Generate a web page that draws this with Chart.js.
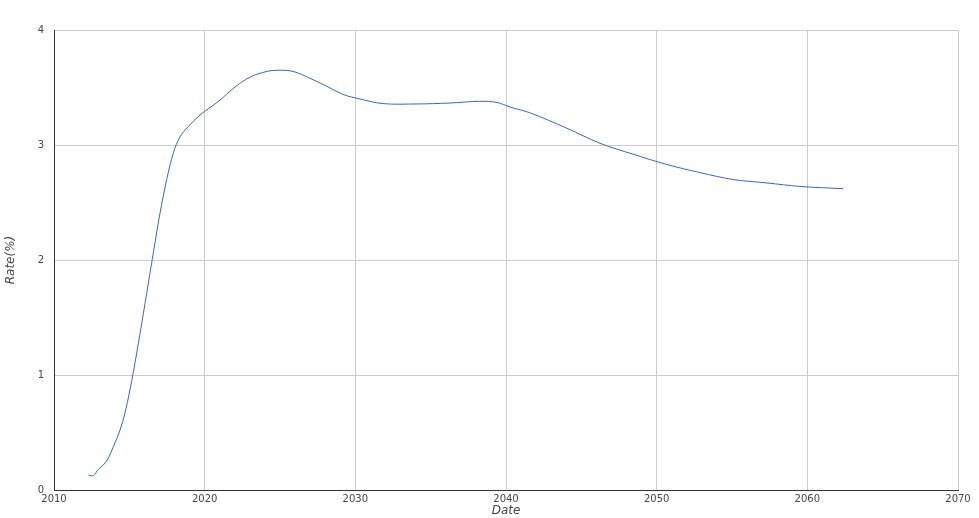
<!DOCTYPE html>
<html lang="en">
<head>
<meta charset="UTF-8">
<title>Rate chart</title>
<script src="https://cdn.jsdelivr.net/npm/chart.js@4"></script>
<style>
  * { margin: 0; padding: 0; box-sizing: border-box; }
  body { background: #fff; width: 979px; height: 518px; overflow: hidden; }
  #wrap { position: relative; width: 979px; height: 518px; }
</style>
</head>
<body>
<div id="wrap"><canvas id="rateChart" width="979" height="518"></canvas></div>
<script>
// values
const years = [
  2012.28, 2012.61, 2012.94, 2013.27, 2013.60, 2013.94, 2014.38, 2014.71, 2015.04, 2015.26,
  2015.71, 2016.15, 2016.59, 2017.04, 2017.48, 2017.92, 2018.36, 2018.91, 2019.69, 2021.02,
  2021.88, 2023.01, 2024.14, 2024.80, 2025.86, 2026.99, 2028.12, 2029.18, 2030.31, 2031.84,
  2034.09, 2036.28, 2038.27, 2039.40, 2040.27, 2041.59, 2044.05, 2046.24, 2048.43, 2050.69,
  2052.88, 2055.06, 2057.32, 2059.51, 2062.37
];
const rates = [
  0.13, 0.125, 0.18, 0.217, 0.275, 0.377, 0.52, 0.67, 0.87, 1.02,
  1.36, 1.71, 2.06, 2.41, 2.70, 2.93, 3.07, 3.16, 3.26, 3.39,
  3.49, 3.59, 3.64, 3.65, 3.64, 3.58, 3.51, 3.44, 3.40, 3.36,
  3.357, 3.365, 3.38, 3.37, 3.33, 3.28, 3.145, 3.015, 2.92, 2.83,
  2.76, 2.70, 2.67, 2.64, 2.62
];
const xTicks = [2010, 2020, 2030, 2040, 2050, 2060, 2070];
const yTicks = [0, 1, 2, 3, 4];

const font = "'DejaVu Sans', sans-serif";

new Chart(document.getElementById('rateChart'), {
  type: 'line',
  data: {
    datasets: [{
      data: years.map((y, i) => ({ x: y, y: rates[i] })),
      borderColor: '#3366cc',
      borderWidth: 1,
      pointRadius: 0,
      fill: false,
      tension: 0.35,
    }]
  },
  options: {
    responsive: false,
    animation: false,
    layout: { padding: { top: 30, right: 21, left: 0, bottom: 0 } },
    plugins: { legend: { display: false }, tooltip: { enabled: false } },
    scales: {
      x: {
        type: 'linear',
        min: 2010, max: 2070,
        afterBuildTicks: s => { s.ticks = xTicks.map(v => ({ value: v })); },
        afterFit: s => { s.height = 28; },
        grid: { color: '#cccccc', drawTicks: false },
        border: { color: '#333333' },
        ticks: { color: '#444', padding: 3, font: { family: font, size: 10 }, callback: v => String(v) },
        title: { display: true, text: 'Date', color: '#444', padding: 0, font: { family: font, size: 12, style: 'italic' } }
      },
      y: {
        min: 0, max: 4,
        afterBuildTicks: s => { s.ticks = yTicks.map(v => ({ value: v })); },
        afterFit: s => { s.width = 54; },
        grid: { color: '#cccccc', drawTicks: false },
        border: { color: '#333333' },
        ticks: { color: '#444', padding: 10, font: { family: font, size: 10 } },
        title: { display: true, text: 'Rate(%)', color: '#444', padding: { top: 4, bottom: 0 }, font: { family: font, size: 12, style: 'italic' } }
      }
    }
  }
});
</script>
</body>
</html>
